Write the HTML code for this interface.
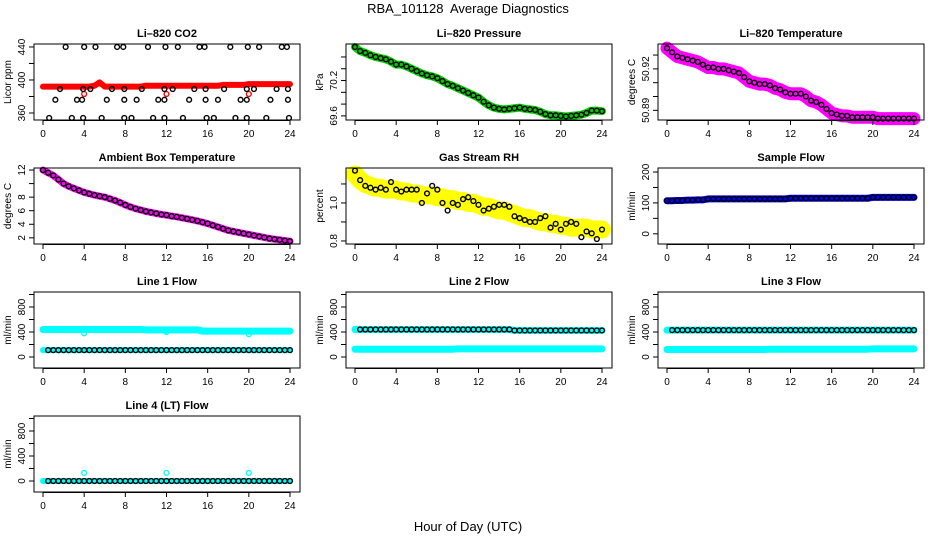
<!DOCTYPE html>
<html><head><meta charset="utf-8"><style>
body{margin:0;background:#fff}
svg{display:block;font-family:"Liberation Sans",Arial,sans-serif}
</style></head><body>
<svg id="c" width="936" height="540" viewBox="0 0 936 540">
<rect width="936" height="540" fill="#fff"/>
<text x="468" y="13" text-anchor="middle" font-size="13" style="white-space:pre">RBA_101128  Average Diagnostics</text>
<text x="468" y="531" text-anchor="middle" font-size="13">Hour of Day (UTC)</text>
</svg>
<script>
const hours = [0,0.5,1,1.5,2,2.5,3,3.5,4,4.5,5,5.5,6,6.5,7,7.5,8,8.5,9,9.5,10,10.5,11,11.5,12,12.5,13,13.5,14,14.5,15,15.5,16,16.5,17,17.5,18,18.5,19,19.5,20,20.5,21,21.5,22,22.5,23,23.5,24];
const xTicks = [0,4,8,12,16,20,24];
const co2Red = [392,392,392,392,392,392,392,392,392,392,393,397,392,392,392,392,392,392,392,392,393,393,393,393,393,393,393,393,393,393,393,393,393,393,393,394,394,394,394,394,395,395,395,395,395,395,395,395,395];
const co2BlackT = [2.2,4.0,5.1,7.2,7.8,10.2,11.9,13.1,15.2,15.7,18.2,19.9,21.0,23.2,23.7, 1.65,3.9,4.6,6.7,7.9,9.6,11.8,12.6,14.7,15.8,17.6,19.8,20.5,22.7,23.8, 1.2,3.3,3.8,6.2,7.9,9.1,11.2,11.8,14.2,15.8,17.0,19.2,19.8,22.1,23.8, 0.6,2.8,3.9,5.7,7.9,8.6,10.7,11.8,13.6,15.9,16.6,18.7,19.8,21.7,23.9];
const co2BlackV = [440,440,440,440,440,440,440,440,440,440,440,440,440,440,440, 389,389,389,389,389,389,389,389,389,389,389,389,389,389,389, 376,376,376,376,376,376,376,376,376,376,376,376,376,376,376, 354,354,354,354,354,354,354,354,354,354,354,354,354,354,354];
const co2OutT = [4,12,20];
const co2OutV = [383,383,383];
const pressure = [70.77,70.70,70.67,70.63,70.60,70.58,70.56,70.52,70.47,70.47,70.44,70.40,70.36,70.32,70.29,70.27,70.24,70.19,70.14,70.11,70.07,70.03,69.99,69.95,69.91,69.84,69.78,69.74,69.72,69.71,69.72,69.73,69.74,69.72,69.71,69.70,69.67,69.63,69.61,69.61,69.60,69.59,69.60,69.61,69.62,69.65,69.69,69.69,69.68];
const temperature = [50.935,50.932,50.929,50.928,50.927,50.926,50.925,50.923,50.921,50.921,50.920,50.920,50.919,50.918,50.917,50.914,50.911,50.910,50.909,50.909,50.908,50.906,50.905,50.903,50.902,50.902,50.902,50.900,50.897,50.896,50.894,50.891,50.888,50.887,50.886,50.886,50.885,50.885,50.885,50.885,50.885,50.884,50.884,50.884,50.884,50.884,50.884,50.884,50.884];
const ambient = [12.0,11.6,11.2,10.6,10.0,9.6,9.3,9.0,8.7,8.5,8.3,8.15,8.0,7.75,7.5,7.2,6.85,6.55,6.3,6.1,5.9,5.75,5.6,5.45,5.35,5.2,5.1,4.95,4.8,4.65,4.5,4.3,4.1,3.85,3.6,3.35,3.1,2.95,2.8,2.65,2.5,2.35,2.2,2.05,1.9,1.8,1.7,1.6,1.5];
const rhBlack = [1.17,1.12,1.09,1.08,1.07,1.08,1.07,1.11,1.07,1.06,1.07,1.07,1.07,1.00,1.05,1.09,1.07,1.00,0.96,1.00,0.99,1.02,1.03,1.01,0.99,0.96,0.97,0.98,0.99,0.99,0.98,0.93,0.92,0.91,0.90,0.90,0.92,0.93,0.87,0.89,0.86,0.89,0.90,0.89,0.82,0.85,0.84,0.81,0.86];
const rhYellow = [1.15,1.12,1.10,1.09,1.08,1.08,1.07,1.07,1.07,1.06,1.06,1.05,1.05,1.04,1.04,1.04,1.03,1.03,1.02,1.02,1.01,1.01,1.00,1.00,0.99,0.98,0.98,0.97,0.96,0.96,0.95,0.94,0.93,0.92,0.92,0.91,0.90,0.90,0.89,0.89,0.88,0.88,0.87,0.87,0.87,0.87,0.86,0.86,0.86];
const sampleFlow = [107,107,108,108,109,109,110,110,113,113,113,113,113,113,113,113,113,113,113,113,113,113,113,113,115,115,115,115,115,115,115,115,115,115,115,115,115,115,115,115,118,118,118,118,118,118,118,118,118];
const line1Main = [440,440,440,440,440,440,440,440,440,440,440,440,440,440,440,440,440,440,440,440,435,435,435,435,435,435,435,435,435,435,435,415,415,415,415,415,415,415,415,415,415,415,415,415,415,415,415,415,415];
const line1Low = [110,110,110,110,110,110,110,110,110,110,110,110,110,110,110,110,110,110,110,110,110,110,110,110,110,110,110,110,110,110,110,110,110,110,110,110,110,110,110,110,110,110,110,110,110,110,110,110,110];
const line2Main = [440,440,440,440,440,440,440,440,440,440,440,440,440,440,440,440,440,440,440,440,440,440,440,440,440,440,440,440,440,440,440,425,425,425,425,425,425,425,425,425,425,425,425,425,425,425,425,425,425];
const line2Low = [125,125,125,125,125,125,125,125,125,125,125,125,125,125,125,125,125,125,125,125,130,130,130,130,130,130,130,130,130,130,130,130,130,130,130,130,130,130,130,130,130,130,130,130,130,130,130,130,130];
const line3Main = [430,430,430,430,430,430,430,430,430,430,430,430,430,430,430,430,430,430,430,430,430,430,430,430,430,430,430,430,430,430,430,430,430,430,430,430,430,430,430,430,430,430,430,430,430,430,430,430,430];
const line3Low = [120,120,120,120,120,120,120,120,120,120,120,120,120,120,120,120,120,120,120,120,125,125,125,125,125,125,125,125,125,125,125,125,125,125,125,125,125,125,125,125,130,130,130,130,130,130,130,130,130];
const line4Main = [0,0,0,0,0,0,0,0,0,0,0,0,0,0,0,0,0,0,0,0,0,0,0,0,0,0,0,0,0,0,0,0,0,0,0,0,0,0,0,0,0,0,0,0,0,0,0,0,0];
const spikeT = [4,12,20];
const line1Spike = [380,400,365];
const line4Spike = [130,130,130];

const NS='http://www.w3.org/2000/svg';
const svg=document.getElementById('c');
function mk(tag,attrs,parent){const e=document.createElementNS(NS,tag);for(const k in attrs)e.setAttribute(k,attrs[k]);(parent||svg).appendChild(e);return e;}

function panel(o){
  const L=34+312*o.col, T=44+124*o.row, W=266, H=76;
  const g=mk('g',{});
  
  
  const xs=v=>L+9+v/24*247;
  const ys=v=>T+H-(v-o.ylim[0])/(o.ylim[1]-o.ylim[0])*H;
  o.layers.forEach(ly=>{
    if(ly.type==='band'){
      const p=mk('polyline',{points:ly.x.map((t,i)=>xs(t)+','+ys(ly.y[i])).join(' '),fill:'none',stroke:ly.color,'stroke-width':ly.w,'stroke-linejoin':'round','stroke-linecap':'round'},g);
      
      
    }
    if(ly.type==='pts'){
      ly.x.forEach((t,i)=>{
        const c=mk('circle',{cx:xs(t),cy:ys(ly.y[i]),r:2.4,fill:'none',stroke:ly.color,'stroke-width':1.4},g);
        
        
      });
    }
  });
  const box=mk('rect',{x:L,y:T,width:W,height:H,fill:'none',stroke:'#000','stroke-width':1},g);
  
  
  const t=mk('text',{x:L+W/2,y:T-7,'text-anchor':'middle','font-size':11,'font-weight':'bold'},g);
  t.textContent=o.title;
  
  
  xTicks.forEach(v=>{
    mk('line',{x1:xs(v),x2:xs(v),y1:T+H,y2:T+H+5,stroke:'#000'},g);
    const tl=mk('text',{x:xs(v),y:T+H+17,'text-anchor':'middle','font-size':10},g);
    tl.textContent=v;
    
    
  });
  mk('line',{x1:xs(0),x2:xs(24),y1:T+H+0.5,y2:T+H+0.5,stroke:'#000'},g);
  o.yticks.forEach(v=>{mk('line',{x1:L-5,x2:L,y1:ys(v),y2:ys(v),stroke:'#000'},g);});
  o.ylabels.forEach(v=>{
    const y=ys(v);
    const tl=mk('text',{x:0,y:0,'text-anchor':'middle','font-size':10,transform:'translate('+(L-9)+','+y+') rotate(-90)'},g);
    tl.textContent=v;
    
    
  });
  const yl=mk('text',{x:0,y:0,'text-anchor':'middle','font-size':10,transform:'translate('+(L-23)+','+(T+H/2)+') rotate(-90)'},g);
  yl.textContent=o.ylab;
  
  
}
const flowTicks=[0,200,400,600,800,1000], flowLabels=[0,400,800], flowLim=[-176,1040];
const CY='#00ffff';
panel({name:'co2-panel',col:0,row:0,title:'Li\u2013820 CO2',ylab:'Licor ppm',ylim:[351.5,443.6],yticks:[360,380,400,420,440],ylabels:[360,400,440],layers:[
  {type:'band',x:hours,y:co2Red,color:'#ff0000',w:6,name:'co2-band'},
  {type:'pts',x:co2OutT,y:co2OutV,color:'#ff0000',name:'co2-outlier'},
  {type:'pts',x:co2BlackT,y:co2BlackV,color:'#000',name:'co2-average-point'}]});
panel({name:'pressure-panel',col:1,row:0,title:'Li\u2013820 Pressure',ylab:'kPa',ylim:[69.53,70.82],yticks:[69.6,69.8,70.0,70.2,70.4,70.6],ylabels:['69.6','70.2'],layers:[
  {type:'band',x:hours,y:pressure,color:'#00cc00',w:8,name:'pressure-band'},
  {type:'pts',x:hours,y:pressure,color:'#000',name:'pressure-point'}]});
panel({name:'temperature-panel',col:2,row:0,title:'Li\u2013820 Temperature',ylab:'degrees C',ylim:[50.883,50.938],yticks:[50.89,50.90,50.91,50.92,50.93],ylabels:['50.89','50.92'],layers:[
  {type:'band',x:hours,y:temperature,color:'#ff00ff',w:13,name:'temperature-band'},
  {type:'pts',x:hours,y:temperature,color:'#000',name:'temperature-point'}]});
panel({name:'ambient-panel',col:0,row:1,title:'Ambient Box Temperature',ylab:'degrees C',ylim:[1.09,12.3],yticks:[2,4,6,8,10,12],ylabels:[2,4,6,8,12],layers:[
  {type:'band',x:hours,y:ambient,color:'#ff00ff',w:7,name:'ambient-band'},
  {type:'pts',x:hours,y:ambient,color:'#000',name:'ambient-point'}]});
panel({name:'rh-panel',col:1,row:1,title:'Gas Stream RH',ylab:'percent',ylim:[0.784,1.184],yticks:[0.8,0.9,1.0,1.1],ylabels:['0.8','1.0'],layers:[
  {type:'band',x:hours,y:rhYellow,color:'#ffff00',w:18,name:'rh-band'},
  {type:'pts',x:hours,y:rhBlack,color:'#000',name:'rh-point'}]});
panel({name:'sample-flow-panel',col:2,row:1,title:'Sample Flow',ylab:'ml/min',ylim:[-33,213],yticks:[0,50,100,150,200],ylabels:[0,100,200],layers:[
  {type:'band',x:hours,y:sampleFlow,color:'#0000ff',w:7,name:'sample-flow-band'},
  {type:'pts',x:hours,y:sampleFlow,color:'#000',name:'sample-flow-point'}]});
panel({name:'line1-flow-panel',col:0,row:2,title:'Line 1 Flow',ylab:'ml/min',ylim:flowLim,yticks:flowTicks,ylabels:flowLabels,layers:[
  {type:'band',x:hours,y:line1Main,color:CY,w:7,name:'line1-main-band'},
  {type:'band',x:hours,y:line1Low,color:CY,w:6,name:'line1-low-band'},
  {type:'pts',x:spikeT,y:line1Spike,color:CY,name:'line1-spike'},
  {type:'pts',x:hours.slice(1),y:line1Low.slice(1),color:'#000',name:'line1-point'}]});
panel({name:'line2-flow-panel',col:1,row:2,title:'Line 2 Flow',ylab:'ml/min',ylim:flowLim,yticks:flowTicks,ylabels:flowLabels,layers:[
  {type:'band',x:hours,y:line2Main,color:CY,w:7,name:'line2-main-band'},
  {type:'band',x:hours,y:line2Low,color:CY,w:7,name:'line2-low-band'},
  {type:'pts',x:hours.slice(1),y:line2Main.slice(1),color:'#000',name:'line2-point'}]});
panel({name:'line3-flow-panel',col:2,row:2,title:'Line 3 Flow',ylab:'ml/min',ylim:flowLim,yticks:flowTicks,ylabels:flowLabels,layers:[
  {type:'band',x:hours,y:line3Main,color:CY,w:7,name:'line3-main-band'},
  {type:'band',x:hours,y:line3Low,color:CY,w:7,name:'line3-low-band'},
  {type:'pts',x:hours.slice(1),y:line3Main.slice(1),color:'#000',name:'line3-point'}]});
panel({name:'line4-flow-panel',col:0,row:3,title:'Line 4 (LT) Flow',ylab:'ml/min',ylim:flowLim,yticks:flowTicks,ylabels:flowLabels,layers:[
  {type:'band',x:hours,y:line4Main,color:CY,w:6,name:'line4-band'},
  {type:'pts',x:spikeT,y:line4Spike,color:CY,name:'line4-spike'},
  {type:'pts',x:hours.slice(1),y:line4Main.slice(1),color:'#000',name:'line4-point'}]});
</script>
</body></html>
